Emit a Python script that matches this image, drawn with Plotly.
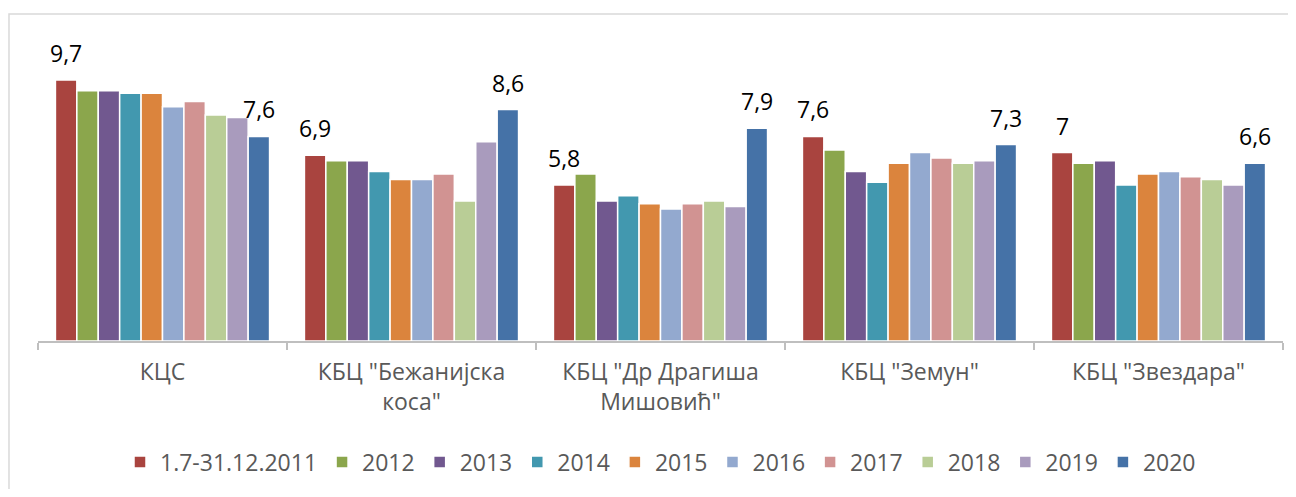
import plotly.graph_objects as go

# categories (hospital centres)
categories = [
    "КЦС",
    "КБЦ \"Бежанијска<br>коса\"",
    "КБЦ \"Др Драгиша<br>Мишовић\"",
    "КБЦ \"Земун\"",
    "КБЦ \"Звездара\"",
]

series_names = ["1.7-31.12.2011", "2012", "2013", "2014", "2015",
                "2016", "2017", "2018", "2019", "2020"]

s2011 = [9.7, 6.9, 5.8, 7.6, 7.0]
s2012 = [9.3, 6.7, 6.2, 7.1, 6.6]
s2013 = [9.3, 6.7, 5.2, 6.3, 6.7]
s2014 = [9.2, 6.3, 5.4, 5.9, 5.8]
s2015 = [9.2, 6.0, 5.1, 6.6, 6.2]
s2016 = [8.7, 6.0, 4.9, 7.0, 6.3]
s2017 = [8.9, 6.2, 5.1, 6.8, 6.1]
s2018 = [8.4, 5.2, 5.2, 6.6, 6.0]
s2019 = [8.3, 7.4, 5.0, 6.7, 5.8]
s2020 = [7.6, 8.6, 7.9, 7.3, 6.6]

series_values = [s2011, s2012, s2013, s2014, s2015,
                 s2016, s2017, s2018, s2019, s2020]

colors = ["#A9443F", "#8BA64C", "#71588F", "#4298AF", "#DB843D",
          "#93A9CF", "#D19392", "#B9CD96", "#A99BBD", "#4572A7"]

# only first and last series carry labels
labelled = [0, 9]

# page body has an 8px margin, so the figure is a bit smaller than the window
W, H = 1280, 481
M_L, M_R, M_T, M_B = 30, 5, 10, 146
BARGAP = 0.14

fig = go.Figure()
for name, vals, col in zip(series_names, series_values, colors):
    fig.add_trace(go.Bar(
        x=categories, y=vals, name=name,
        marker=dict(color=col, line=dict(color="white", width=1.5)),
        hoverinfo="x+y+name",
    ))


def fmt(v):
    return f"{v:g}".replace(".", ",")


# data labels above first/last bar of every group
plot_w = W - M_L - M_R
bar_w = plot_w / len(categories) * (1 - BARGAP) / len(series_names)
anns = []
for i in labelled:
    shift = (i - (len(series_names) - 1) / 2) * bar_w
    for c, v in zip(categories, series_values[i]):
        anns.append(dict(
            x=c, y=v, xref="x", yref="y", text=fmt(v), showarrow=False,
            xshift=shift, yshift=27, yanchor="middle",
            font=dict(size=23, color="#000000", family="Open Sans"),
        ))

fig.update_layout(
    width=W, height=H,
    barmode="group", bargap=BARGAP, bargroupgap=0,
    plot_bgcolor="white", paper_bgcolor="white",
    margin=dict(l=M_L, r=M_R, t=M_T, b=M_B),
    font=dict(family="Open Sans", color="#595959", size=23),
    xaxis=dict(
        showline=True, linecolor="#BFBFBF", linewidth=1.5,
        ticks="outside", tickson="boundaries", ticklen=7, tickcolor="#BFBFBF",
        tickwidth=1.5, tickfont=dict(size=23, color="#595959"),
        ticklabelstandoff=10,
        showgrid=False,
    ),
    yaxis=dict(range=[0, 12], visible=False, showgrid=False),
    legend=dict(
        orientation="h", x=0.5, xanchor="center", y=-0.375, yanchor="middle",
        font=dict(size=23, color="#595959"),
        itemclick=False,
    ),
    annotations=anns,
    shapes=[dict(
        type="rect", xref="paper", yref="paper",
        x0=-0.0233, x1=1.2, y0=-0.7, y1=1.0123,
        line=dict(color="#D9D9D9", width=1.5), fillcolor="rgba(0,0,0,0)",
        layer="below",
    )],
)

fig.write_html("out.html")
